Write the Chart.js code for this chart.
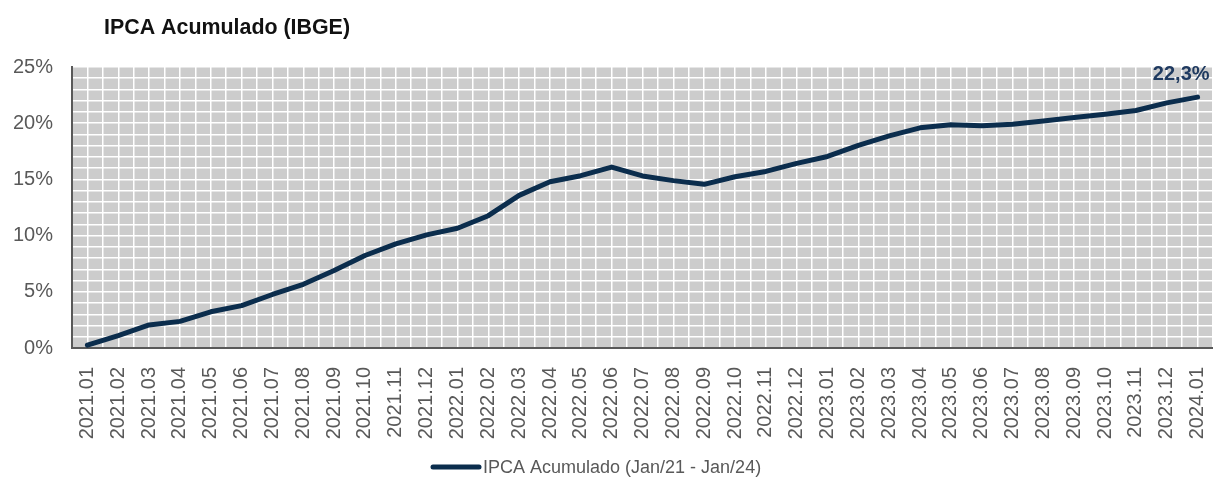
<!DOCTYPE html>
<html>
<head>
<meta charset="utf-8">
<script src="https://cdn.jsdelivr.net/npm/chart.js@4/dist/chart.umd.min.js"></script>
<style>
html,body{margin:0;padding:0;background:#fff;}
#wrap{width:1213px;height:483px;position:relative;}
</style>
</head>
<body>
<div id="wrap"><canvas id="c" width="1213" height="483"></canvas></div>
<script>
const chartTitle = 'IPCA Acumulado (IBGE)';
const seriesName = 'IPCA Acumulado (Jan/21 - Jan/24)';
const categories = [
  '2021.01','2021.02','2021.03','2021.04','2021.05','2021.06','2021.07','2021.08','2021.09','2021.10','2021.11','2021.12',
  '2022.01','2022.02','2022.03','2022.04','2022.05','2022.06','2022.07','2022.08','2022.09','2022.10','2022.11','2022.12',
  '2023.01','2023.02','2023.03','2023.04','2023.05','2023.06','2023.07','2023.08','2023.09','2023.10','2023.11','2023.12',
  '2024.01'
];
const values = [
  0.25, 1.11, 2.05, 2.37, 3.22, 3.77, 4.76, 5.67, 6.90, 8.23, 9.26, 10.06,
  10.65, 11.77, 13.58, 14.79, 15.33, 16.10, 15.31, 14.89, 14.56, 15.24, 15.71, 16.43,
  17.04, 18.03, 18.87, 19.59, 19.87, 19.77, 19.91, 20.19, 20.50, 20.79, 21.13, 21.81,
  22.32
];
const endLabel = '22,3%';
const yTickLabels = ['0%','5%','10%','15%','20%','25%'];

const FONT = "'Liberation Sans', Arial, sans-serif";

const bgPlugin = {
  id: 'bgPlugin',
  beforeDraw(chart) {
    const {ctx, chartArea: a} = chart;
    ctx.save();
    ctx.fillStyle = '#cccccc';
    ctx.fillRect(a.left, a.top, a.right - a.left, a.bottom - a.top);
    ctx.restore();
  },
  afterDraw(chart) {
    const ctx = chart.ctx;
    ctx.save();
    // title
    ctx.font = 'bold 21.4px ' + FONT;
    ctx.fillStyle = '#111111';
    ctx.textBaseline = 'middle';
    ctx.textAlign = 'left';
    ctx.fillText(chartTitle, 104, 28);
    // end label
    const meta = chart.getDatasetMeta(0);
    const last = meta.data[meta.data.length - 1];
    ctx.font = 'bold 20px ' + FONT;
    ctx.fillStyle = '#1f3a60';
    ctx.textAlign = 'right';
    ctx.fillText(endLabel, last.x + 12, last.y - 23);
    // legend
    const ds = chart.data.datasets[0];
    ctx.strokeStyle = ds.borderColor;
    ctx.lineWidth = 5;
    ctx.lineCap = 'round';
    ctx.beginPath();
    ctx.moveTo(433, 467);
    ctx.lineTo(479, 467);
    ctx.stroke();
    ctx.font = '18px ' + FONT;
    ctx.fillStyle = '#595959';
    ctx.textAlign = 'left';
    ctx.fillText(ds.label, 483, 468);
    ctx.restore();
  }
};

new Chart(document.getElementById('c'), {
  type: 'line',
  data: {
    labels: categories,
    datasets: [{
      label: seriesName,
      data: values,
      borderColor: '#0b2d4d',
      backgroundColor: '#0b2d4d',
      borderWidth: 5,
      pointRadius: 0,
      tension: 0,
      borderCapStyle: 'round',
      borderJoinStyle: 'round',
      xAxisID: 'x',
      yAxisID: 'y'
    }]
  },
  options: {
    responsive: false,
    animation: false,
    devicePixelRatio: 1,
    layout: { padding: { top: 67, left: 0, right: 0, bottom: 0 } },
    plugins: {
      title: { display: false },
      tooltip: { enabled: false },
      legend: { display: false }
    },
    scales: {
      x: {
        type: 'category',
        offset: true,
        position: 'bottom',
        grid: { display: false, drawTicks: false },
        border: { display: true, color: '#595959', width: 2 },
        ticks: {
          autoSkip: false,
          minRotation: 90,
          maxRotation: 90,
          padding: 19,
          color: '#595959',
          font: { family: FONT, size: 20 }
        },
        afterFit(s) { s.height = 135; s.paddingLeft = 0; s.paddingRight = 0; }
      },
      xg: {
        type: 'linear',
        position: 'bottom',
        min: -0.5,
        max: categories.length - 0.5,
        ticks: { display: false, stepSize: 0.5 },
        grid: {
          display: true,
          drawTicks: false,
          color: (c) => (c.tick && c.tick.value === -0.5) ? 'rgba(0,0,0,0)' : '#ffffff',
          lineWidth: 1.5
        },
        border: { display: false },
        afterFit(s) { s.height = 0; s.paddingLeft = 0; s.paddingRight = 0; }
      },
      y: {
        type: 'linear',
        min: 0,
        max: 25,
        position: 'left',
        grid: {
          display: true,
          drawTicks: false,
          color: (c) => (c.tick && c.tick.value === 0) ? 'rgba(0,0,0,0)' : '#ffffff',
          lineWidth: 1.5
        },
        border: { display: true, color: '#595959', width: 2 },
        ticks: {
          stepSize: 1,
          autoSkip: false,
          padding: 19,
          color: '#595959',
          font: { family: FONT, size: 20 },
          callback: (v) => (v % 5 === 0) ? yTickLabels[v / 5] : ''
        },
        afterFit(s) { s.width = 72; s.paddingTop = 0; s.paddingBottom = 0; }
      }
    }
  },
  plugins: [bgPlugin]
});
</script>
</body>
</html>
